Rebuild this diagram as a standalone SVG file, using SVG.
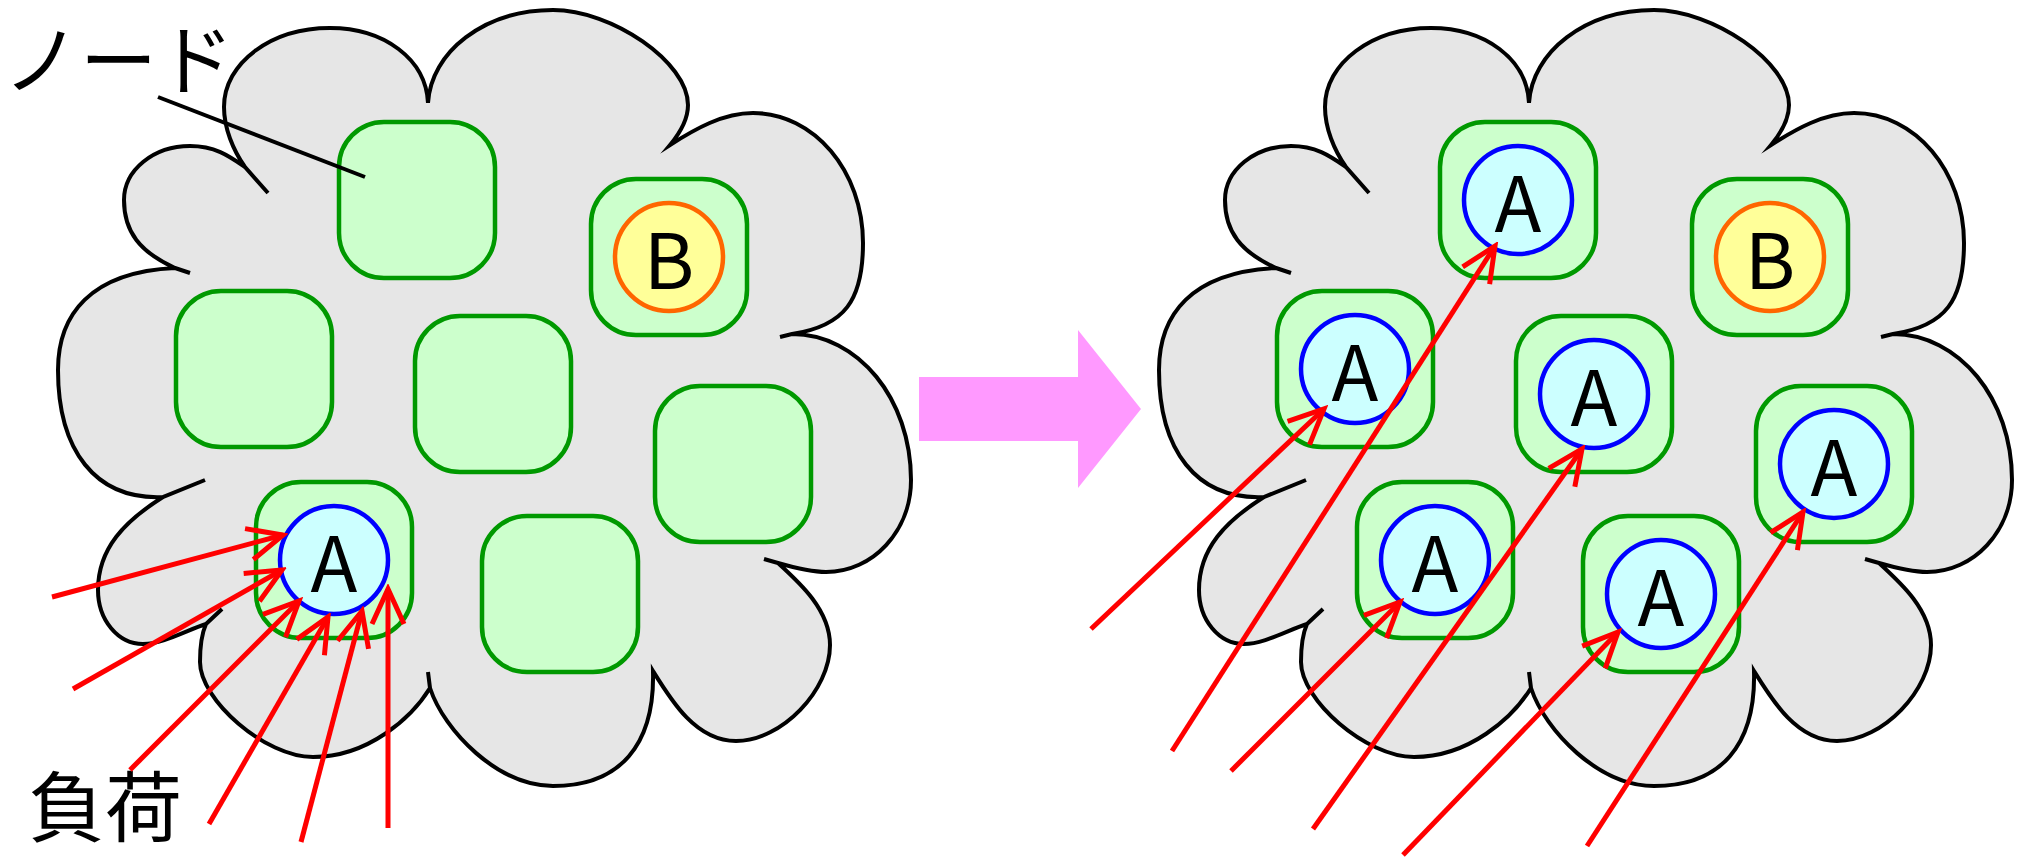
<svg xmlns="http://www.w3.org/2000/svg" xmlns:xlink="http://www.w3.org/1999/xlink" width="2022" height="858" viewBox="0 0 2022 858">
  <style>
    .cloud { fill: #e6e6e6; stroke: #000; stroke-width: 4; stroke-linejoin: miter; stroke-miterlimit: 12; }
    .box { fill: #ccffcc; stroke: #009900; stroke-width: 4.5; }
    .ca { fill: #ccffff; stroke: #0000ff; stroke-width: 4.5; }
    .cb { fill: #ffff99; stroke: #ff6600; stroke-width: 4.5; }
    .lbl { font-family: "Noto Sans CJK JP", "Noto Sans", sans-serif; font-size: 77px; fill: #000; }
    .ctr { text-anchor: middle; }
    .load { stroke: #ff0000; stroke-width: 5; fill: none; marker-end: url(#vee); }
  </style>
  <defs>
    <marker id="vee" viewBox="-40 -20 45 40" markerWidth="45" markerHeight="40" refX="0" refY="0" orient="auto" markerUnits="userSpaceOnUse">
      <path d="M-35,-16 L0,0 L-35,16" fill="none" stroke="#ff0000" stroke-width="5"/>
    </marker>
    <!-- cloud outline: ten lobes, with short tails at some cusps -->
    <path id="cloudShape" class="cloud" d="M245,167
      C233,150 224,128 224,107
      C224,63 271,28 330,28
      C384,28 426,59 428,103
      C431,52 484,10 553,10
      C612,10 688,62 688,105
      C688,120 680,133 670,145
      C695,129 723,113 753,113
      C814,113 863,171 863,243
      C863,300 845,326 792,334
      L780,337 L792,334
      C858,334 911,399 911,480
      C911,531 873,572 826,572
      C810,572 792,567 778,563
      L764,559 L778,563
      C800,583 830,610 830,645
      C830,690 782,741 736,741
      C696,741 671.5,701 653,671
      C655,745 620,786 553,786
      C498,786 444,731 430,688
      L428,672 L430,688
      C411.5,718 368,757 313,757
      C265,757 200,700 200,662
      C200,645 202,633 206,624
      L222,609 L206,624
      C187,630 163,644 143,644
      C118,644 98,620 98,590
      C98,548 125,521 163,497
      L205,480 L163,497
      C95,500 58,450 58,370
      C58,315 90,272 175,268
      L190,273 L175,268
      C140,252 124,232 124,200
      C124,170 153.6,146 190,146
      C215,146 229,156 245,167
      L268,193 L245,167 Z"/>
  </defs>

  <!-- before: one cloud, one node holding A takes all the load -->
  <g id="cloud-before">
    <use xlink:href="#cloudShape" href="#cloudShape"/>
  </g>
  <g id="before-node-top"><rect class="box" x="339" y="122" width="156" height="156" rx="45"/></g>
  <g id="before-node-left"><rect class="box" x="176" y="291" width="156" height="156" rx="45"/></g>
  <g id="before-node-mid"><rect class="box" x="415" y="316" width="156" height="156" rx="45"/></g>
  <g id="before-node-b">
    <rect class="box" x="591" y="179" width="156" height="156" rx="45"/>
    <circle class="cb" cx="669" cy="257" r="54"/>
    <text class="lbl ctr" x="669" y="289">B</text>
  </g>
  <g id="before-node-right"><rect class="box" x="655" y="386" width="156" height="156" rx="45"/></g>
  <g id="before-node-bottom"><rect class="box" x="482" y="516" width="156" height="156" rx="45"/></g>
  <g id="before-node-a">
    <rect class="box" x="256" y="482" width="156" height="156" rx="45"/>
    <circle class="ca" cx="334" cy="560" r="54"/>
    <text class="lbl ctr" x="334" y="592">A</text>
  </g>

  <g id="labels">
    <text class="lbl" x="3" y="89">ノード</text>
    <line x1="158" y1="97" x2="365" y2="177" stroke="#000" stroke-width="4"/>
    <text class="lbl" x="28" y="836">負荷</text>
  </g>

  <!-- transition arrow -->
  <g id="transition">
    <polygon points="919,377 1078,377 1078,330 1141,409 1078,488 1078,441 919,441" fill="#ff99ff"/>
  </g>

  <!-- after: same cloud, load spread over many A instances -->
  <g id="cloud-after">
    <use xlink:href="#cloudShape" href="#cloudShape" transform="translate(1101,0)"/>
  </g>
  <g id="after-node-top">
    <rect class="box" x="1440" y="122" width="156" height="156" rx="45"/>
    <circle class="ca" cx="1518" cy="200" r="54"/>
    <text class="lbl ctr" x="1518" y="232">A</text>
  </g>
  <g id="after-node-left">
    <rect class="box" x="1277" y="291" width="156" height="156" rx="45"/>
    <circle class="ca" cx="1355" cy="369" r="54"/>
    <text class="lbl ctr" x="1355" y="401">A</text>
  </g>
  <g id="after-node-mid">
    <rect class="box" x="1516" y="316" width="156" height="156" rx="45"/>
    <circle class="ca" cx="1594" cy="394" r="54"/>
    <text class="lbl ctr" x="1594" y="426">A</text>
  </g>
  <g id="after-node-b">
    <rect class="box" x="1692" y="179" width="156" height="156" rx="45"/>
    <circle class="cb" cx="1770" cy="257" r="54"/>
    <text class="lbl ctr" x="1770" y="289">B</text>
  </g>
  <g id="after-node-right">
    <rect class="box" x="1756" y="386" width="156" height="156" rx="45"/>
    <circle class="ca" cx="1834" cy="464" r="54"/>
    <text class="lbl ctr" x="1834" y="496">A</text>
  </g>
  <g id="after-node-bottom">
    <rect class="box" x="1583" y="516" width="156" height="156" rx="45"/>
    <circle class="ca" cx="1661" cy="594" r="54"/>
    <text class="lbl ctr" x="1661" y="626">A</text>
  </g>
  <g id="after-node-a">
    <rect class="box" x="1357" y="482" width="156" height="156" rx="45"/>
    <circle class="ca" cx="1435" cy="560" r="54"/>
    <text class="lbl ctr" x="1435" y="592">A</text>
  </g>

  <!-- load arrows -->
  <g id="connectors">
    <line class="load" x1="52" y1="597" x2="283" y2="535"/>
    <line class="load" x1="73" y1="689" x2="282" y2="570"/>
    <line class="load" x1="130" y1="770" x2="299" y2="601"/>
    <line class="load" x1="209" y1="824" x2="328" y2="617"/>
    <line class="load" x1="301" y1="842" x2="362" y2="611"/>
    <line class="load" x1="388" y1="828" x2="388" y2="589"/>

    <line class="load" x1="1091" y1="629" x2="1324" y2="409"/>
    <line class="load" x1="1172" y1="751" x2="1495" y2="246"/>
    <line class="load" x1="1231" y1="771" x2="1400" y2="602"/>
    <line class="load" x1="1313" y1="829" x2="1582" y2="449"/>
    <line class="load" x1="1403" y1="855" x2="1618" y2="632"/>
    <line class="load" x1="1587" y1="846" x2="1803" y2="512"/>
  </g>
</svg>
